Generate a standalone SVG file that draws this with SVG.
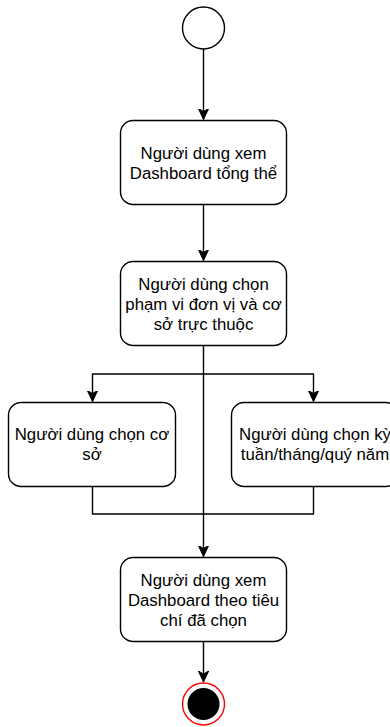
<svg xmlns="http://www.w3.org/2000/svg" width="390" height="727" viewBox="0 0 390 727">
<style>
.box{fill:#fff;stroke:#000;stroke-width:1.4}
.t{font-family:"Liberation Sans",Arial,sans-serif;font-size:16.8px;fill:#000;text-anchor:middle}
.e{fill:none;stroke:#000;stroke-width:1.4}
</style>
<defs>
<marker id="arr" markerUnits="userSpaceOnUse" markerWidth="12" markerHeight="12" viewBox="0 0 12 12" refX="11" refY="6" orient="auto">
<path d="M0,0.8 L11,6 L0,11.2 L3,6 Z" fill="#000" stroke="#000" stroke-width="1"/>
</marker>
</defs>
<rect width="390" height="727" fill="#fff"/>
<g id="connectors">
<path class="e" d="M203.5,49 V119.5" marker-end="url(#arr)"/>
<path class="e" d="M203.5,204.5 V260.5" marker-end="url(#arr)"/>
<path class="e" d="M203.5,345.5 V556.5" marker-end="url(#arr)"/>
<path class="e" d="M203.5,374 H92.5 V401.5" marker-end="url(#arr)"/>
<path class="e" d="M203.5,374 H313.5 V401.5" marker-end="url(#arr)"/>
<path class="e" d="M92.5,486.5 V514 H203.5"/>
<path class="e" d="M313.5,486.5 V514 H203.5"/>
<path class="e" d="M203.5,641.5 V682" marker-end="url(#arr)"/>
</g>
<g id="start">
<circle cx="203.5" cy="28" r="21" fill="#fff" stroke="#000" stroke-width="1.4"/>
</g>
<g id="n1">
<rect class="box" x="120.5" y="120.5" width="166" height="84" rx="12.6"/>
<text class="t" x="203.5" y="158.5">Người dùng xem</text>
<text class="t" x="203.5" y="178.7">Dashboard tổng thể</text>
</g>
<g id="n2">
<rect class="box" x="120.5" y="261.5" width="166" height="84" rx="12.6"/>
<text class="t" x="203.5" y="289.5">Người dùng chọn</text>
<text class="t" x="203.5" y="309.7">phạm vi đơn vị và cơ</text>
<text class="t" x="203.5" y="329.9">sở trực thuộc</text>
</g>
<g id="n3">
<rect class="box" x="8.5" y="402.5" width="167" height="84" rx="12.6"/>
<text class="t" x="92" y="440">Người dùng chọn cơ</text>
<text class="t" x="92" y="460.2">sở</text>
</g>
<g id="n4">
<rect class="box" x="231.5" y="402.5" width="167" height="84" rx="12.6"/>
<text class="t" x="315" y="440">Người dùng chọn kỳ</text>
<text class="t" x="315" y="460.2">tuần/tháng/quý năm</text>
</g>
<g id="n5">
<rect class="box" x="120.5" y="557.5" width="166" height="84" rx="12.6"/>
<text class="t" x="203.5" y="585.5">Người dùng xem</text>
<text class="t" x="203.5" y="605.7">Dashboard theo tiêu</text>
<text class="t" x="203.5" y="625.9">chí đã chọn</text>
</g>
<g id="end">
<circle cx="203.5" cy="704" r="21" fill="#fff" stroke="#ff0000" stroke-width="1.4"/>
<circle cx="203.5" cy="704" r="16" fill="#000"/>
</g>
</svg>
